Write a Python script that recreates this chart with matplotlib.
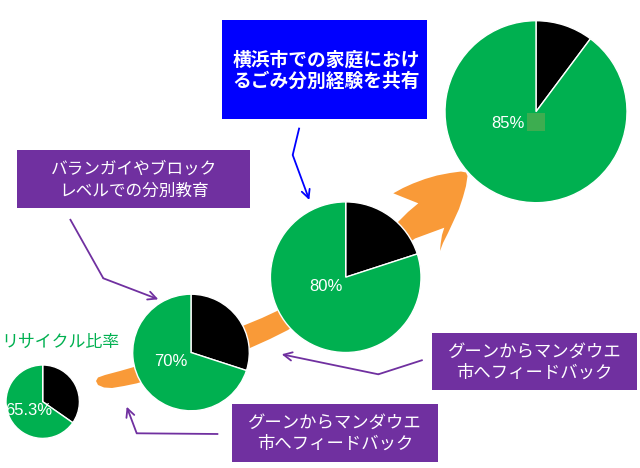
import matplotlib
matplotlib.use("Agg")
import matplotlib.pyplot as plt
from matplotlib.patches import Rectangle, Polygon

# ---- data ----
pie_labels = ["65.3%", "70%", "80%", "85%"]
pie_green = [65.3, 70.0, 80.0, 89.8]          # green share as drawn
pie_black = [100 - g for g in pie_green]
title_label = "リサイクル比率"
box_texts = [
    ["バランガイやブロック", "レベルでの分別教育"],
    ["横浜市での家庭におけ", "るごみ分別経験を共有"],
    ["グーンからマンダウエ", "市へフィードバック"],
    ["グーンからマンダウエ", "市へフィードバック"],
]

# ---- layout (pixel coords, y downward) ----
pie_centers = [(42.7, 401.7), (191.0, 352.5), (345.7, 277.2), (536.0, 111.7)]
pie_radii = [36.7, 58.3, 75.3, 91.0]
label_pos = [(29, 410.5), (170.7, 361.7), (326, 286.7), (508.3, 124)]

GREEN = "#00B050"
PURPLE = "#7030A0"
BLUE = "#0000FF"
ORANGE = "#F99A38"
JP = ["Noto Sans CJK JP", "DejaVu Sans"]
NUM = ["Liberation Sans", "DejaVu Sans"]

fig = plt.figure(figsize=(6.4, 4.68), dpi=100)
ax = fig.add_axes([0, 0, 1, 1])

# orange curved block arrow (decoration)
arrow_pts = [
    (96, 381), (98, 377.5), (105, 375), (120, 371), (134, 367),
    (245, 325), (262, 318), (277, 311), (398.3, 221.7), (408, 212),
    (418.3, 203.3), (405, 198), (393.3, 193.3), (403, 188), (413, 183.5),
    (425, 179), (437, 175.5), (450, 173), (461, 171.5), (466, 172.5),
    (467.5, 176), (466, 186), (463, 197), (459, 209), (454, 220),
    (448, 233), (443, 243), (440, 251), (440.7, 243.3), (442, 235),
    (444.3, 227.7), (415, 238.5), (288, 330), (270, 339), (250, 348),
    (137, 383.3), (124, 386), (112, 388), (104, 387.5), (98, 385),
]
ax.add_patch(Polygon(arrow_pts, closed=True, facecolor=ORANGE,
                     edgecolor="none", zorder=1))

# pies
for g, b, c, r in zip(pie_green, pie_black, pie_centers, pie_radii):
    wedges, _ = ax.pie([b, g], colors=["black", GREEN], center=c, radius=r,
                       startangle=-90, counterclock=True,
                       wedgeprops=dict(edgecolor="white", linewidth=1.0))
    for w in wedges:
        w.set_zorder(3)

for (x, y), t in zip(label_pos, pie_labels):
    ax.text(x, y, t, color="white", fontsize=12, family=NUM,
            ha="center", va="center", zorder=5)

# small square artefact in largest pie
ax.add_patch(Rectangle((527.3, 112.7), 18, 18, facecolor="#3DAD50",
                       edgecolor="none", zorder=4))

# title label
ax.text(1, 341.7, title_label, color=GREEN, fontsize=12.2, family=JP,
        ha="left", va="center", zorder=5)

# boxes
boxes = [
    # x0, y0, x1, y1, color, line ys, center x, fontsize, weight
    (17.3, 150, 250, 208.3, PURPLE, (169.3, 191.7), 133.7, 12, "normal"),
    (221.7, 20, 427.3, 119.3, BLUE, (60, 81.7), 326, 13.5, "bold"),
    (431.7, 332.7, 637.3, 390, PURPLE, (351.7, 372.7), 534.5, 12.5, "normal"),
    (232.3, 404, 438.3, 461.7, PURPLE, (423.3, 444), 335.3, 12.5, "normal"),
]
for (x0, y0, x1, y1, col, ys, cx, fs, wt), lines in zip(boxes, box_texts):
    ax.add_patch(Rectangle((x0, y0), x1 - x0, y1 - y0, facecolor=col,
                           edgecolor="none", zorder=4))
    for yy, ln in zip(ys, lines):
        ax.text(cx, yy, ln, color="white", fontsize=fs, family=JP,
                weight=wt, style="italic" if col == BLUE else "normal",
                ha="center", va="center", zorder=6)

# connector arrows
connectors = [
    (PURPLE, [(70, 219), (103.3, 278.3)], (158.3, 299.3)),
    (BLUE, [(299.3, 127.7), (292.7, 155)], (309.3, 200)),
    (PURPLE, [(422.7, 360), (378.3, 374.3)], (281.7, 354.3)),
    (PURPLE, [(218.3, 434), (136.7, 433.3)], (126.7, 406.7)),
]
for col, pts, tip in connectors:
    xs = [p[0] for p in pts]
    ys = [p[1] for p in pts]
    ax.plot(xs, ys, color=col, lw=1.3, zorder=5, solid_capstyle="butt")
    ax.annotate("", xy=tip, xytext=pts[-1],
                arrowprops=dict(arrowstyle="->,head_length=0.6,head_width=0.3",
                                color=col, lw=1.3, shrinkA=0, shrinkB=0),
                zorder=5)

ax.set_xlim(0, 640)
ax.set_ylim(468, 0)
ax.set_aspect("auto")
ax.axis("off")
fig.savefig("out.png", dpi=100)
